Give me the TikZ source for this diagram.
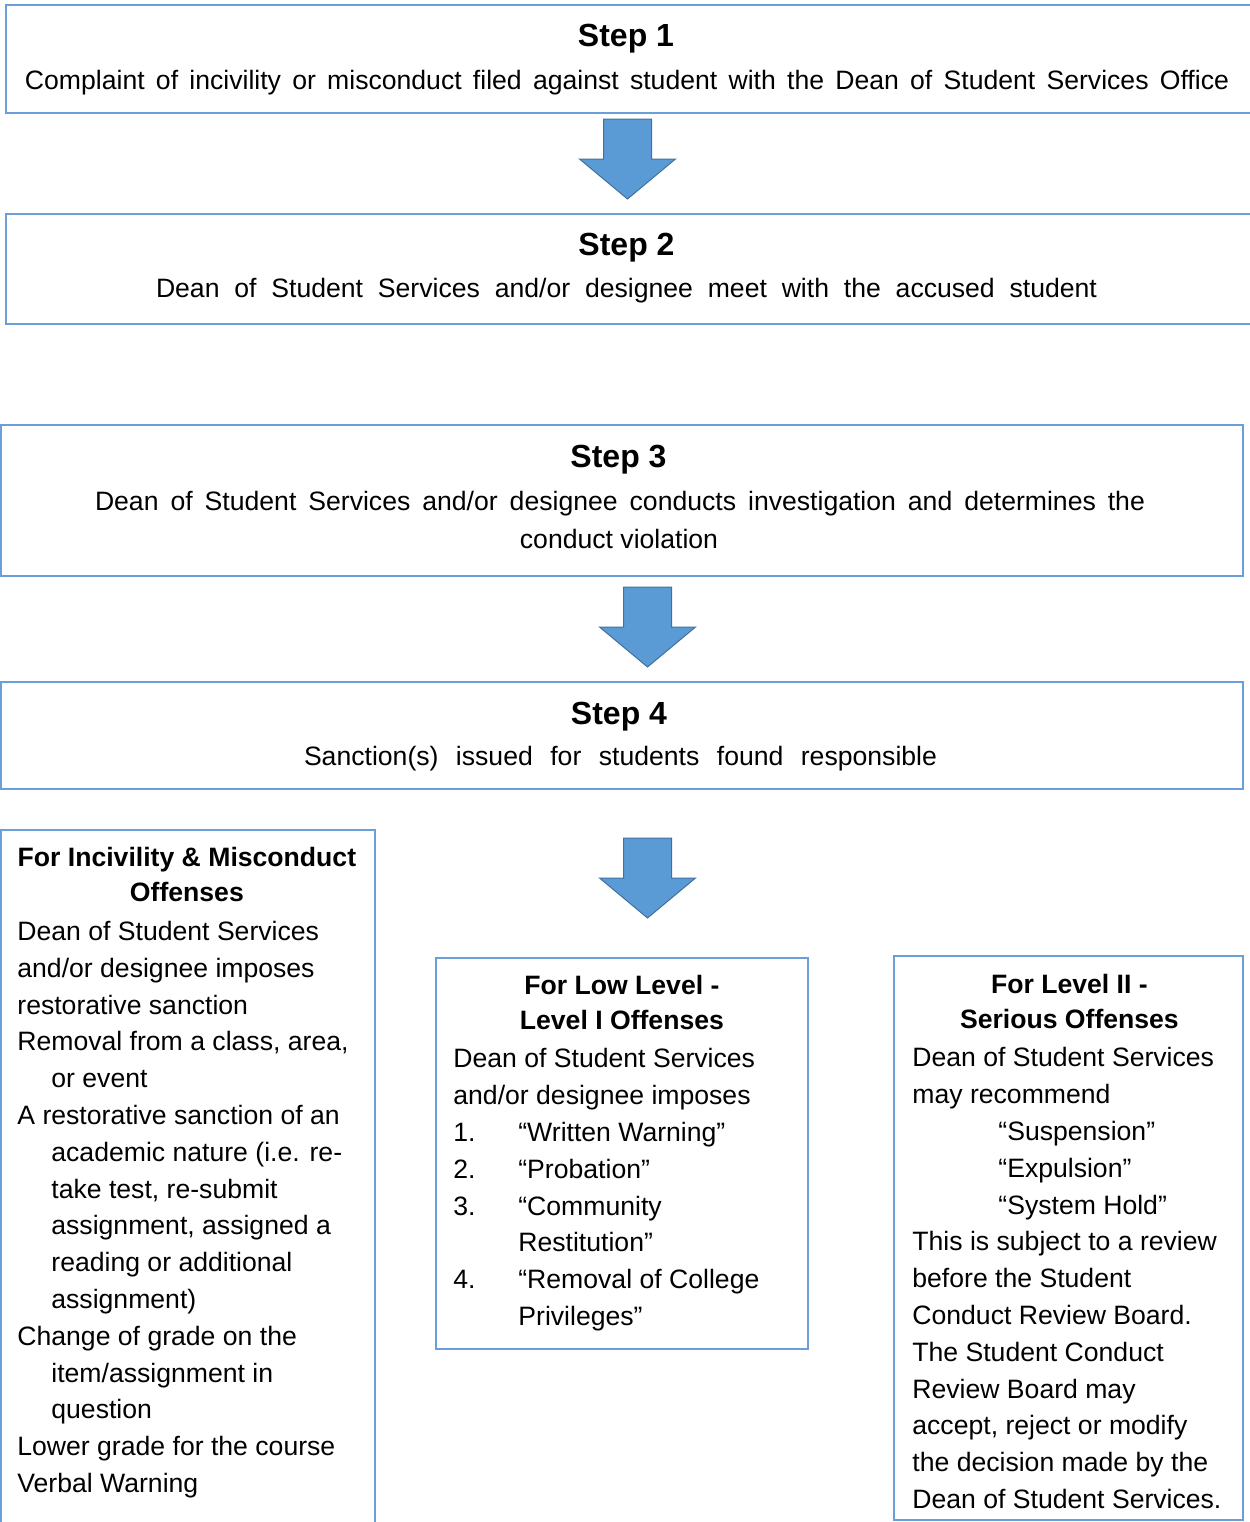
\documentclass[tikz,border=0pt]{standalone}
\usepackage{fontspec}
\setmainfont{Liberation Sans}
\definecolor{boxblue}{HTML}{6A9FD9}
\definecolor{arrowblue}{HTML}{5B9BD5}
\definecolor{arrowline}{HTML}{41719C}
\tikzset{
  stepbox/.style={draw=boxblue,line width=1pt,inner sep=0pt},
  steptitle/.style={font=\fontsize{16}{19}\selectfont\bfseries,inner sep=0pt,anchor=base},
  steptext/.style={font=\fontsize{13.3}{18.4}\selectfont,inner sep=0pt,anchor=base},
  sidetext/.style={font=\fontsize{13.3}{18.4}\selectfont,inner sep=0pt,anchor=north west,align=left},
  downarr/.pic={\draw[fill=arrowblue,draw=arrowline,line width=0.5pt] (-24,0) -- (24,0) -- (24,40) -- (48,40) -- (0,80) -- (-48,40) -- (-24,40) -- cycle;}
}
\newcommand{\boxhead}[2]{\makebox[#1]{\bfseries #2}}
\newcommand{\hang}{\hspace*{17pt}}

\begin{document}
\begin{tikzpicture}[x=0.5pt,y=-0.5pt]
\useasboundingbox (0,0) rectangle (1249,1522);
% steps
\node[stepbox,minimum width=623pt,minimum height=54pt] (s1) at (629,59) {};
\node[steptitle] (s1title) at (626,46.5) {Step 1};
\node[steptext] (s1text) at (627,89.5) {\makebox[602pt][s]{Complaint of incivility or misconduct filed against student with the Dean of Student Services Office}};
\node[stepbox,minimum width=623pt,minimum height=55pt] (s2) at (629,269) {};
\node[steptitle] (s2title) at (626.5,255.5) {Step 2};
\node[steptext] (s2text) at (626.5,297.5) {\makebox[470.5pt][s]{Dean of Student Services and/or designee meet with the accused student}};
\node[stepbox,minimum width=621pt,minimum height=75.5pt] (s3) at (622,500.5) {};
\node[steptitle] (s3title) at (618.5,467.5) {Step 3};
\node[steptext] (s3text) at (620,510.5) {\makebox[525pt][s]{Dean of Student Services and/or designee conducts investigation and determines the}};
\node[steptext] (s3more) at (619,548.5) {conduct violation};
\node[stepbox,minimum width=621pt,minimum height=53.5pt] (s4) at (622,735.5) {};
\node[steptitle] (s4title) at (619,724.5) {Step 4};
\node[steptext] (s4text) at (620.5,765.5) {\makebox[316.5pt][s]{Sanction(s) issued for students found responsible}};
% block arrows
\pic (a1) at (627.5,119) {downarr};
\pic (a2) at (647.5,587) {downarr};
\pic (a3) at (647.5,838) {downarr};
% outcome boxes
\node[stepbox,minimum width=187pt,minimum height=350pt] (incbox) at (188,1180) {};
\node[sidetext] (inctext) at (17,847) {\boxhead{169.5pt}{For Incivility \& Misconduct}\\[-0.9pt]
\boxhead{169.5pt}{Offenses}\\[1pt]
Dean of Student Services\\
and/or designee imposes\\
restorative sanction\\
Removal from a class, area,\\
\hang or event\\
A restorative sanction of an\\
\hang academic nature (i.e. re-\\
\hang take test, re-submit\\
\hang assignment, assigned a\\
\hang reading or additional\\
\hang assignment)\\
Change of grade on the\\
\hang item/assignment in\\
\hang question\\
Lower grade for the course\\
Verbal Warning};
\node[stepbox,minimum width=186pt,minimum height=195.5pt] (lowbox) at (622,1153.5) {};
\node[sidetext] (lowtext) at (453,974.5) {\boxhead{168.5pt}{For Low Level -}\\[-0.9pt]
\boxhead{168.5pt}{Level I Offenses}\\[1pt]
Dean of Student Services\\
and/or designee imposes\\
\makebox[32.5pt][l]{1.}“Written Warning”\\
\makebox[32.5pt][l]{2.}“Probation”\\
\makebox[32.5pt][l]{3.}“Community\\
\hspace*{32.5pt}Restitution”\\
\makebox[32.5pt][l]{4.}“Removal of College\\
\hspace*{32.5pt}Privileges”};
\node[stepbox,minimum width=174.5pt,minimum height=282pt] (serbox) at (1068.5,1238) {};
\node[sidetext] (sertext) at (912,973.5) {\boxhead{157pt}{For Level II -}\\[-0.9pt]
\boxhead{157pt}{Serious Offenses}\\[1pt]
Dean of Student Services\\
may recommend\\
\hspace*{43pt}“Suspension”\\
\hspace*{43pt}“Expulsion”\\
\hspace*{43pt}“System Hold”\\
This is subject to a review\\
before the Student\\
Conduct Review Board.\\
The Student Conduct\\
Review Board may\\
accept, reject or modify\\
the decision made by the\\
Dean of Student Services.};
\end{tikzpicture}
\end{document}
